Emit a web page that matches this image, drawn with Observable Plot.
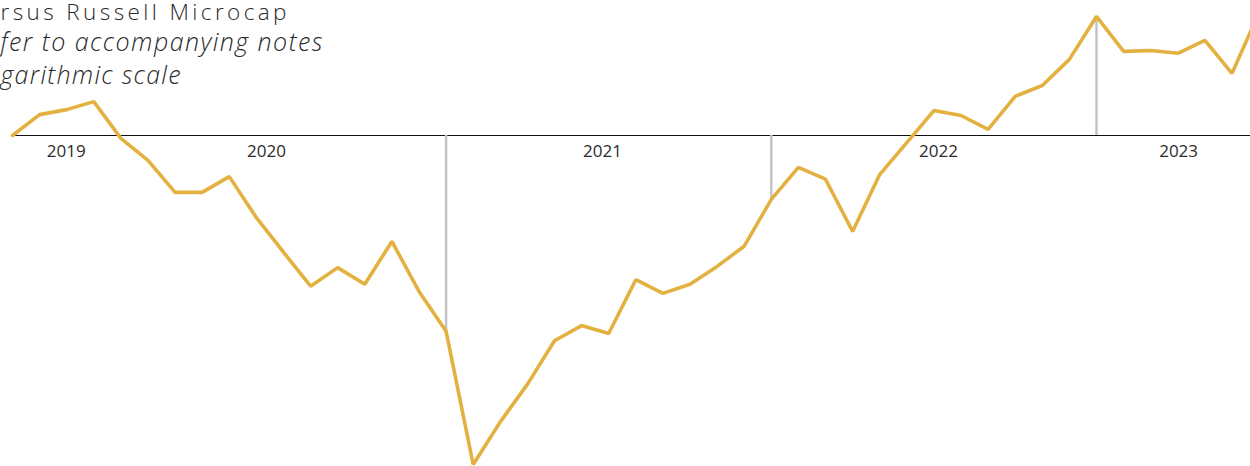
<!DOCTYPE html>
<html><head><meta charset="utf-8">
<script src="https://cdn.jsdelivr.net/npm/d3@7"></script>
<script src="https://cdn.jsdelivr.net/npm/@observablehq/plot@0.6"></script>
<style>
html,body{margin:0;padding:0;background:#fff;overflow:hidden;width:1250px;height:466px}
#wrap{position:relative;width:1250px;height:466px;overflow:hidden}
#head{position:absolute;left:0;top:0;z-index:2}
#chart{position:absolute;left:0;top:0}
</style></head><body><div id="wrap"><div id="chart"></div><svg id="head" width="400" height="100"></svg></div>
<script>
// ---- data ----
const titleLines = ["rsus Russell Microcap", "fer to accompanying notes", "garithmic scale"];
const period = [0,1,2,3,4,5,6,7,8,9,10,11,12,13,14,15,16,17,18,19,20,21,22,23,24,25,26,27,28,29,30,31,32,33,34,35,36,37,38,39,40,41,42,43,44,45,46];
const relative = [1.000,1.045,1.056,1.074,0.994,0.949,0.887,0.887,0.917,0.841,0.782,0.728,0.757,0.731,0.800,0.720,0.662,0.500,0.547,0.592,0.649,0.670,0.659,0.738,0.717,0.731,0.759,0.792,0.874,0.935,0.912,0.817,0.921,0.985,1.054,1.043,1.013,1.086,1.111,1.174,1.285,1.194,1.196,1.189,1.222,1.140,1.296];
const yearLabels = ["2019","2020","2021","2022","2023"];
const yearPos = [1.98, 9.37, 21.77, 34.17, 43.03];
const markedPeriods = [16, 28, 40];

const data = period.map((p, i) => ({p, v: relative[i]}));
const years = yearLabels.map((t, i) => ({t, p: yearPos[i]}));
const marks = markedPeriods.map(p => ({p, v: relative[p]}));

const chart = Plot.plot({
  width: 1250, height: 466,
  marginTop: 0, marginBottom: 0, marginLeft: 0, marginRight: 0,
  style: {background: "#fff", overflow: "visible"},
  x: {type: "linear", domain: [0, 46], range: [12, 12 + 27.1 * 46], axis: null},
  y: {type: "log", domain: [0.5, 1], range: [464, 135], axis: null},
  marks: [
    Plot.ruleY([1], {x1: 0, x2: 50, stroke: "#111", strokeWidth: 1.2}),
    Plot.ruleX(marks, {x: "p", y1: 1, y2: "v", stroke: "#c2c2c2", strokeWidth: 2.4}),
    Plot.text(years, {x: "p", y: 1, text: "t", dy: 16, fontSize: 17, fill: "#2b2b2b",
      fontFamily: "'Open Sans', sans-serif", textAnchor: "middle", letterSpacing: 1.4}),
    Plot.line(data, {x: "p", y: "v", stroke: "#E3B13F", strokeWidth: 3.6, strokeLinejoin: "miter"})
  ]
});
document.getElementById("chart").appendChild(chart);

// ---- header (the reference shows it cropped at the left edge) ----
const head = d3.select("#head");
const tStyles = [
  {y: 20, size: 22.5, italic: false, w: 286},
  {y: 51, size: 25, italic: true, w: 322},
  {y: 84, size: 25, italic: true, w: 180}
];
titleLines.forEach((line, i) => {
  const s = tStyles[i];
  head.append("text")
    .attr("x", 0.5)
    .attr("y", s.y)
    .attr("font-family", "'Open Sans', sans-serif")
    .attr("font-weight", 300)
    .attr("font-size", s.size)
    .attr("font-style", s.italic ? "italic" : "normal")
    .attr("fill", "#2a2a2a")
    .attr("textLength", s.w)
    .attr("lengthAdjust", "spacing")
    .text(line);
});
</script></body></html>
